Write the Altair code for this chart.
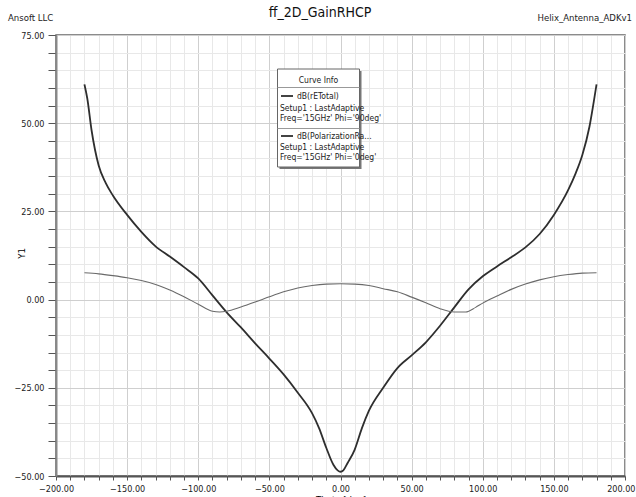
import altair as alt
import pandas as pd

FONT = "Liberation Sans Narrow, DejaVu Sans Condensed, Liberation Sans, sans-serif"

# dB(rETotal), Phi = 90deg
theta_e = [-180, -178, -175, -170, -165, -160, -150, -140, -130, -120, -110, -100, -90, -80,
           -70, -60, -50, -40, -30, -20, -15, -10, -5, -2, 0, 2, 5, 10, 15, 20, 30, 40, 50, 60, 70,
           80, 90, 100, 110, 120, 130, 140, 150, 160, 165, 170, 175, 178, 180]
val_e = [61, 57, 48, 38, 33, 29.5, 24, 19.2, 15.1, 12.2, 9.2, 6.0, 1.2, -3.6,
         -7.9, -12.4, -16.7, -21.2, -26.4, -32.2, -36.5, -42, -46.8, -48.4, -48.8, -48.4, -46.3, -42.5, -36.5, -31.5, -25.0, -19.4, -15.8, -12.1, -7.4,
         -2.2, 2.9, 6.6, 9.4, 12.0, 14.8, 18.6, 24, 31, 35.5, 41, 49, 56, 61]

# dB(PolarizationRatio), Phi = 0deg
theta_p = [-180, -170, -160, -150, -140, -130, -120, -110, -100, -90, -85, -80, -70, -60, -50,
           -40, -30, -20, -10, 0, 10, 20, 30, 40, 50, 60, 70, 80, 88, 95, 100, 110, 120, 130,
           140, 150, 160, 170, 180]
val_p = [7.6, 7.3, 6.8, 6.2, 5.4, 4.3, 2.7, 0.8, -1.3, -3.3, -3.5, -3.3, -2.1, -0.7, 0.8,
         2.2, 3.3, 4.0, 4.4, 4.5, 4.4, 4.0, 3.1, 2.2, 0.7, -0.9, -2.6, -3.5, -3.5, -2.2, -1.0, 1.0, 2.9, 4.4,
         5.6, 6.5, 7.1, 7.5, 7.6]

series_names = ["dB(rETotal)", "dB(PolarizationRatio)"]
x_ticks = list(range(-200, 201, 10))
y_ticks = list(range(-50, 76, 5))

df = pd.concat([
    pd.DataFrame({"theta": theta_e, "val": val_e, "series": series_names[0]}),
    pd.DataFrame({"theta": theta_p, "val": val_p, "series": series_names[1]}),
])

W, H = 569, 441

xaxis = alt.Axis(
    title="Theta [deg]", values=x_ticks,
    labelExpr="datum.value % 50 === 0 ? format(datum.value, '.2f') : ''",
    gridColor={"condition": {"test": "datum.value % 50 === 0", "value": "#cfcfcf"}, "value": "#e8e8e8"},
    gridWidth=1, tickSize=4, tickColor="#555", labelPadding=4, labelFontSize=9,
    labelAlign={"condition": {"test": "datum.value === 200", "value": "right"}, "value": "center"},
    labelOffset={"condition": {"test": "datum.value === 200", "value": 10}, "value": 0},
    labelColor="#222", labelFont=FONT, titleFont=FONT, titleFontSize=9.5, titleFontWeight="normal",
    titlePadding=1, domainColor="#555", domainWidth=2, labelFlush=False,
)
yaxis = alt.Axis(
    title="Y1", values=y_ticks,
    labelExpr="datum.value % 25 === 0 ? format(datum.value, '.2f') : ''",
    gridColor={"condition": {"test": "datum.value % 25 === 0", "value": "#cfcfcf"}, "value": "#e8e8e8"},
    gridWidth=1, tickSize=8, tickColor="#555", labelPadding=4, labelFontSize=9,
    labelColor="#222", labelFont=FONT, titleFont=FONT, titleFontSize=9.5, titleFontWeight="normal",
    titleX=-35, titleY=218, titleAngle=270, titleAlign="center", titleBaseline="middle",
    domainColor="#888", domainWidth=2, labelFlush=False,
)

lines = alt.Chart(df).mark_line(interpolate="monotone", clip=True).encode(
    x=alt.X("theta:Q", scale=alt.Scale(domain=[-200, 200], nice=False, zero=False), axis=xaxis),
    y=alt.Y("val:Q", scale=alt.Scale(domain=[-50, 75], nice=False, zero=False), axis=yaxis),
    color=alt.Color("series:N", scale=alt.Scale(domain=series_names, range=["#2e2e2e", "#6a6a6a"]), legend=None),
    strokeWidth=alt.StrokeWidth("series:N", scale=alt.Scale(domain=series_names, range=[1.8, 1.1]), legend=None),
    order=alt.Order("theta:Q"),
)

one = pd.DataFrame({"a": [0]})


def txt(text, x, y, size=8.5, align="left", color="#222", baseline="middle"):
    return alt.Chart(one).mark_text(
        text=text, align=align, baseline=baseline, font=FONT, fontSize=size, color=color
    ).encode(x=alt.value(x), y=alt.value(y))


def rule(x1, x2, y1, y2, color="#555", w=1):
    return alt.Chart(one).mark_rule(color=color, strokeWidth=w).encode(
        x=alt.value(x1), x2=alt.value(x2), y=alt.value(y1), y2=alt.value(y2))


# legend box (plot-area pixel coordinates)
lx1, lx2, ly1, ly2 = 221.5, 303.5, 34, 132
shadow = alt.Chart(one).mark_rect(color="#777").encode(
    x=alt.value(lx1 + 2), x2=alt.value(lx2 + 2), y=alt.value(ly1 + 2), y2=alt.value(ly2 + 2))
box = alt.Chart(one).mark_rect(color="white", stroke="#666", strokeWidth=1).encode(
    x=alt.value(lx1), x2=alt.value(lx2), y=alt.value(ly1), y2=alt.value(ly2))

legend_layers = [
    shadow, box,
    txt("Curve Info", (lx1 + lx2) / 2, 44.5, align="center"),
    rule(lx1, lx2, 52.5, 52.5, color="#999"),
    rule(225, 237, 61, 61, color="#2e2e2e", w=1.8),
    txt("dB(rETotal)", 241, 61),
    txt("Setup1 : LastAdaptive", 224, 72.5),
    txt("Freq='15GHz' Phi='90deg'", 224, 83),
    rule(lx1, lx2, 93.5, 93.5, color="#999"),
    rule(225, 237, 101, 101, color="#2e2e2e", w=1.8),
    txt("dB(PolarizationRa...", 241, 101),
    txt("Setup1 : LastAdaptive", 224, 112),
    txt("Freq='15GHz' Phi='0deg'", 224, 122),
]

headers = [
    txt("ff_2D_GainRHCP", 264, -22, size=14, align="center", color="#111"),
    txt("Ansoft LLC", -48, -17, size=9.5, color="#222"),
    txt("Helix_Antenna_ADKv1", 576, -17, size=9.5, align="right", color="#222"),
]

chart = alt.layer(lines, *legend_layers, *headers).properties(
    width=W, height=H,
    autosize=alt.AutoSizeParams(type="none"),
    padding={"left": 56, "top": 35, "right": 11, "bottom": 21},
    background="white",
).configure_view(stroke="#666", strokeWidth=1.5)

chart.save("out.html", embed_options={"renderer": "svg", "actions": False})
